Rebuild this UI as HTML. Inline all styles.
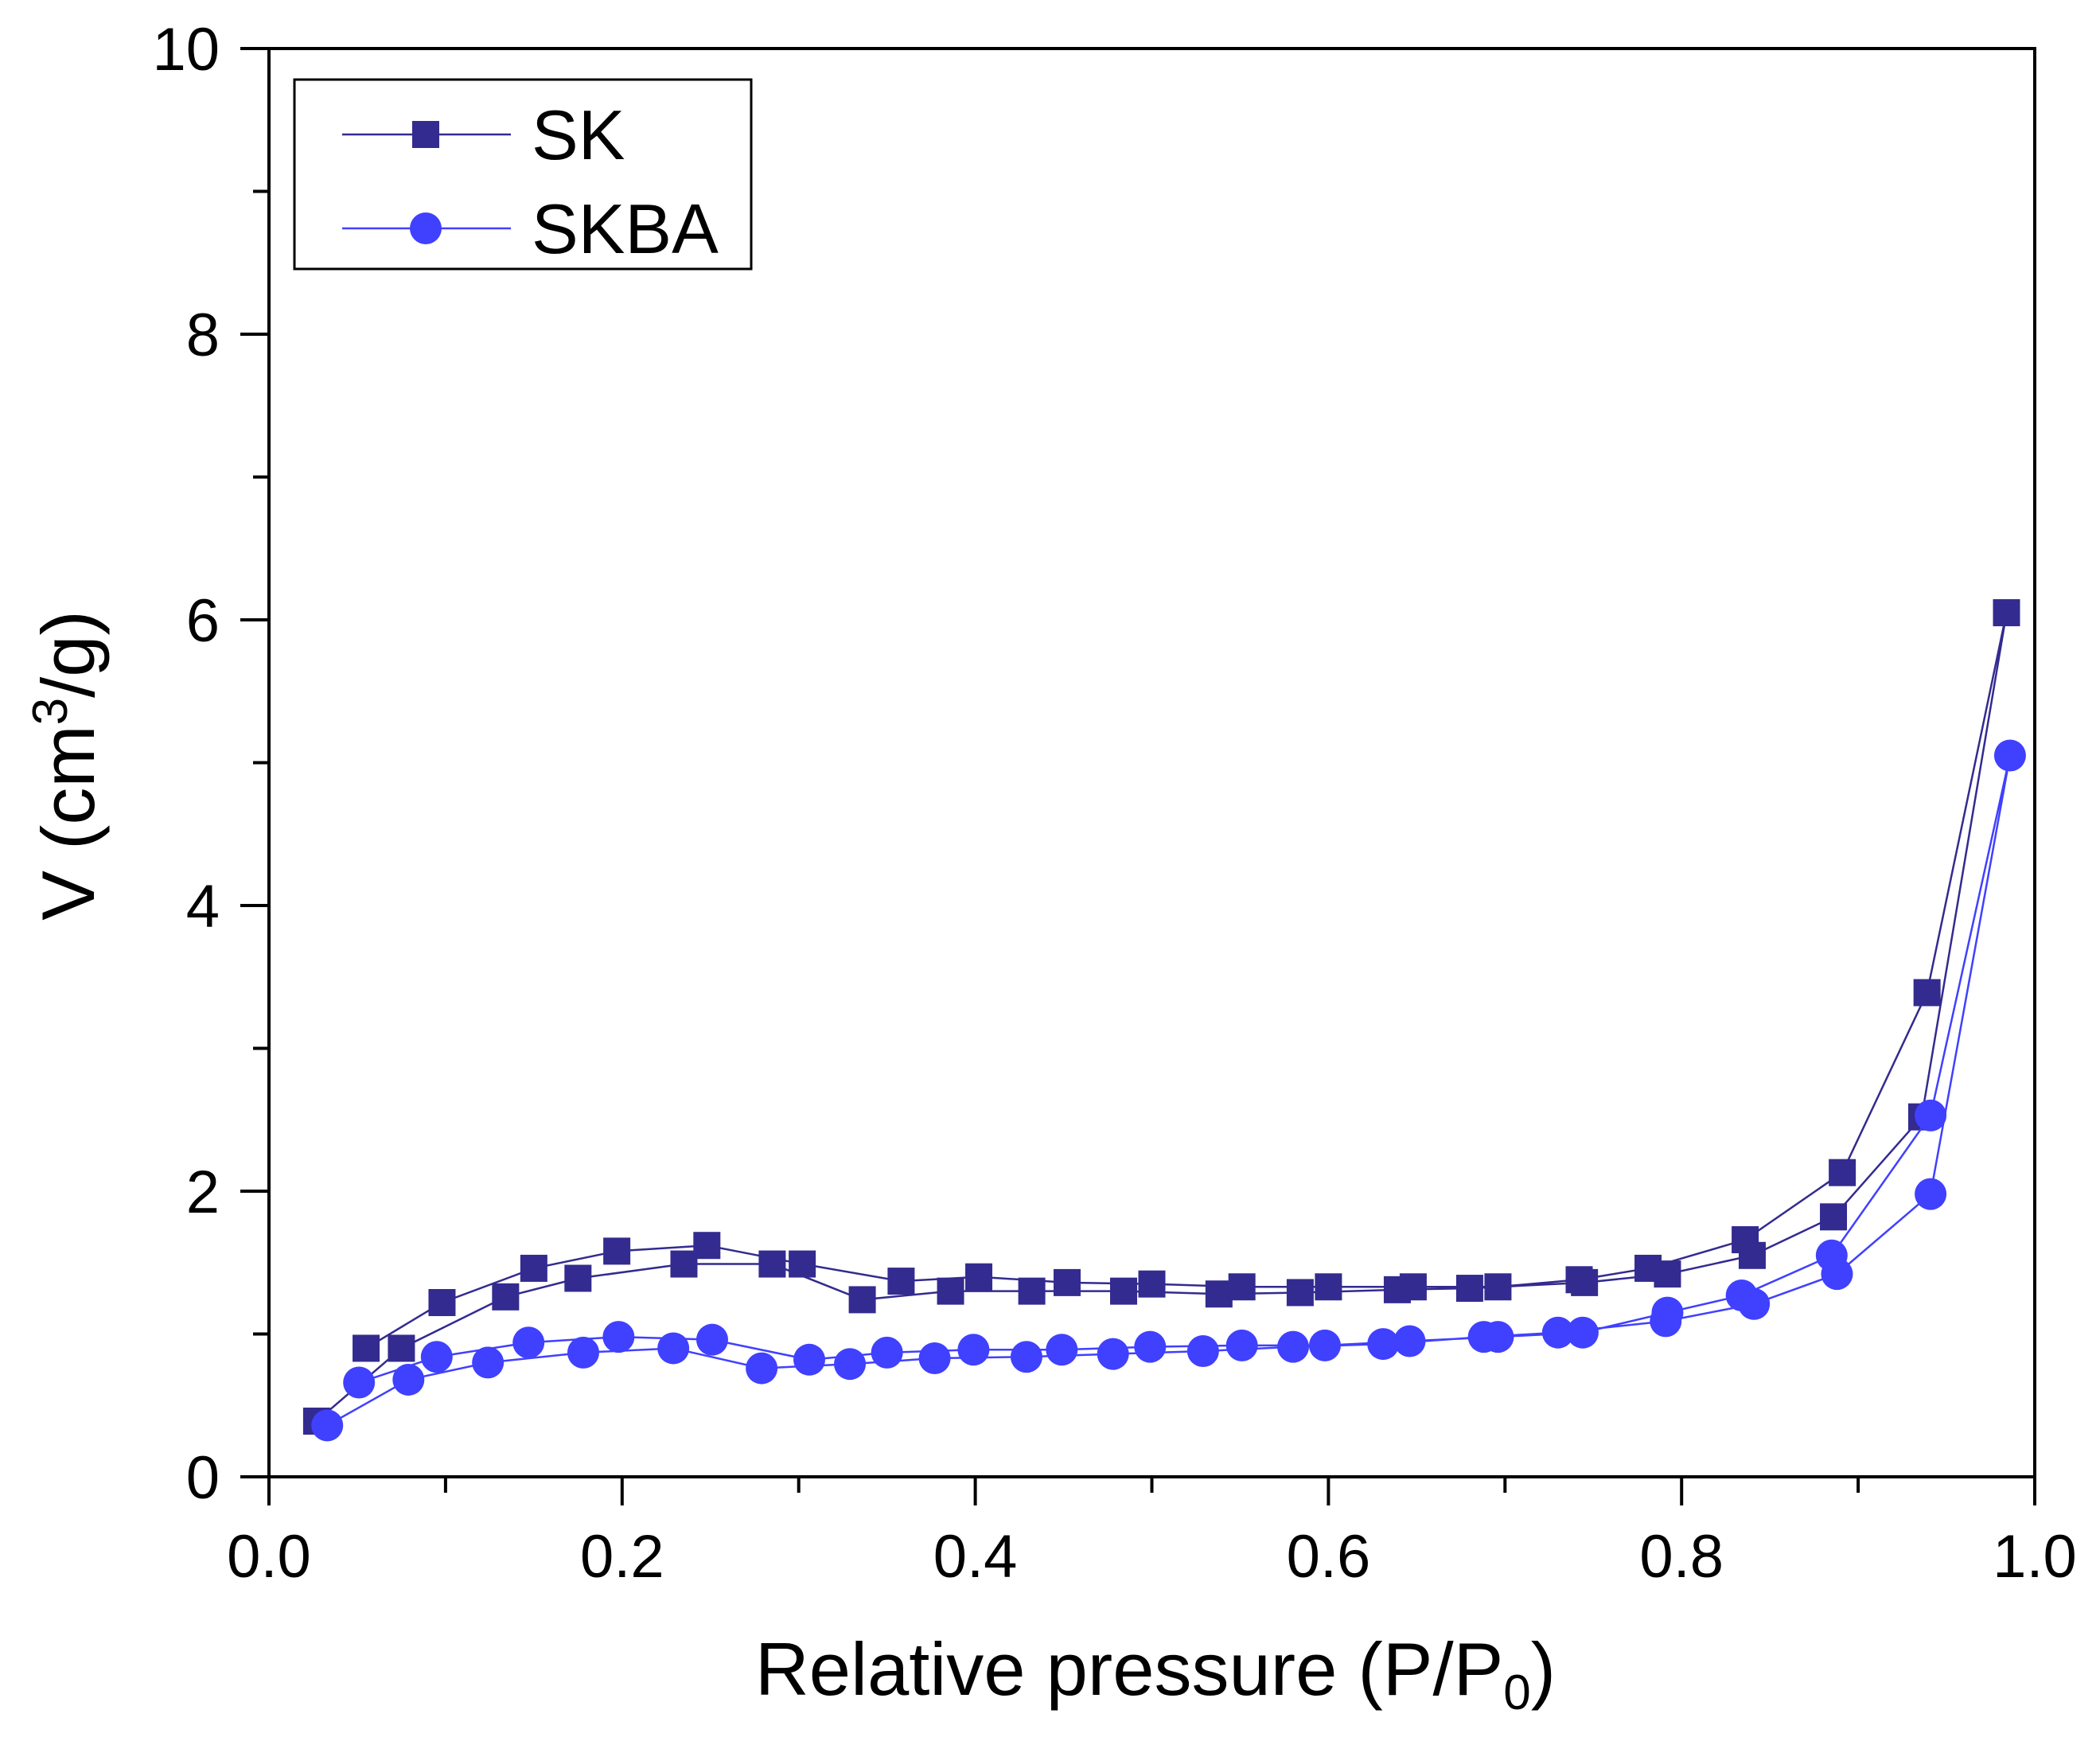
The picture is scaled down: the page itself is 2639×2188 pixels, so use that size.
<!DOCTYPE html>
<html><head><meta charset="utf-8"><style>
html,body{margin:0;padding:0;background:#fff;}
svg{display:block;font-family:"Liberation Sans",Arial,sans-serif;}
</style></head><body>
<svg id="chart" width="2639" height="2188" viewBox="0 0 2639 2188">
<g id="plot"></g>
<g id="axes"></g>
<g id="legend">
  <rect x="370" y="100" width="574" height="238" fill="#fff" stroke="#000" stroke-width="3"/>
  <g>
    <line x1="430" y1="169" x2="642" y2="169" stroke="#332b8f" stroke-width="2.5"/>
    <rect x="518" y="152" width="34" height="34" fill="#332b8f"/>
    <text x="668" y="200" font-size="88" fill="#000">SK</text>
  </g>
  <g>
    <line x1="430" y1="287" x2="642" y2="287" stroke="#4040ff" stroke-width="2.5"/>
    <circle cx="535" cy="287" r="20" fill="#4040ff"/>
    <text x="668" y="318" font-size="88" fill="#000">SKBA</text>
  </g>
</g>
<text x="1452" y="2130" font-size="94" text-anchor="middle">Relative pressure (P/P<tspan font-size="62" dy="18">0</tspan><tspan dy="-18">)</tspan></text>
<text transform="translate(118,962) rotate(-90)" font-size="94" text-anchor="middle">V (cm<tspan font-size="62" dy="-34">3</tspan><tspan dy="34">/g)</tspan></text>
</svg>
<script>
const xTicks = ["0.0","0.2","0.4","0.6","0.8","1.0"];
const yTicks = ["0","2","4","6","8","10"];
const skX = [0.027,0.075,0.134,0.175,0.235,0.285,0.336,0.386,0.432,0.484,0.538,0.584,0.639,0.68,0.745,0.792,0.84,0.886,0.936,0.984,0.939,0.891,0.836,0.781,0.742,0.696,0.648,0.6,0.551,0.5,0.452,0.402,0.358,0.302,0.248,0.197,0.15,0.098,0.055];
const skY = [0.39,0.9,1.26,1.39,1.49,1.49,1.24,1.30,1.30,1.30,1.28,1.29,1.31,1.32,1.36,1.42,1.55,1.82,2.52,6.05,3.39,2.13,1.66,1.46,1.38,1.33,1.33,1.33,1.33,1.35,1.36,1.40,1.37,1.49,1.62,1.58,1.46,1.22,0.9];
const skbaX = [0.033,0.079,0.124,0.178,0.229,0.279,0.329,0.377,0.429,0.478,0.529,0.58,0.631,0.688,0.73,0.791,0.841,0.888,0.941,0.986,0.941,0.885,0.834,0.792,0.744,0.696,0.646,0.598,0.551,0.499,0.449,0.399,0.35,0.306,0.251,0.198,0.147,0.095,0.051];
const skbaY = [0.36,0.68,0.80,0.87,0.90,0.76,0.79,0.83,0.84,0.86,0.88,0.91,0.93,0.98,1.01,1.09,1.21,1.42,1.98,5.05,2.53,1.55,1.27,1.15,1.01,0.98,0.95,0.92,0.92,0.91,0.89,0.89,0.87,0.82,0.96,0.98,0.94,0.84,0.66];

const X0=338, X1=2557, Y0=1856, Y1=61;
const sx = v => X0 + (X1-X0)*v/1.0;
const sy = v => Y0 - (Y0-Y1)*v/10;
const NS="http://www.w3.org/2000/svg";
function mk(tag, attrs, parent){const e=document.createElementNS(NS,tag);for(const k in attrs)e.setAttribute(k,attrs[k]);parent.appendChild(e);return e;}
const plot=document.getElementById('plot'), axes=document.getElementById('axes');

function series(xs, ys, color, shape, name){
  const g=mk('g',{},plot);
  
  
  const pts=xs.map((x,i)=>sx(x)+','+sy(ys[i])).join(' ');
  const pl=mk('polyline',{points:pts,fill:'none',stroke:color,'stroke-width':2.5},g);
  
  
  xs.forEach((x,i)=>{
    let m;
    if(shape==='square') m=mk('rect',{x:sx(x)-17,y:sy(ys[i])-17,width:34,height:34,fill:color},g);
    else m=mk('circle',{cx:sx(x),cy:sy(ys[i]),r:20,fill:color},g);
    
    
  });
}
series(skX,skY,'#332b8f','square','sk');
series(skbaX,skbaY,'#4040ff','circle','skba');

const fr=mk('rect',{x:X0,y:Y1,width:X1-X0,height:Y0-Y1,fill:'none',stroke:'#000','stroke-width':4},axes);


for(let i=0;i<=10;i++){
  const v=i/10, major=i%2===0;
  mk('line',{x1:sx(v),y1:Y0,x2:sx(v),y2:Y0+(major?36:20),stroke:'#000','stroke-width':4},axes);
}
xTicks.forEach(t=>{
  const tx=mk('text',{x:sx(parseFloat(t)),y:1982,'font-size':76,'text-anchor':'middle'},axes);
  tx.textContent=t;
  
  
});
for(let i=0;i<=10;i++){
  const major=i%2===0;
  mk('line',{x1:X0,y1:sy(i),x2:X0-(major?36:20),y2:sy(i),stroke:'#000','stroke-width':4},axes);
}
yTicks.forEach(t=>{
  const tx=mk('text',{x:276,y:sy(parseFloat(t))+27,'font-size':76,'text-anchor':'end'},axes);
  tx.textContent=t;
  
  
});
</script>
</body></html>
